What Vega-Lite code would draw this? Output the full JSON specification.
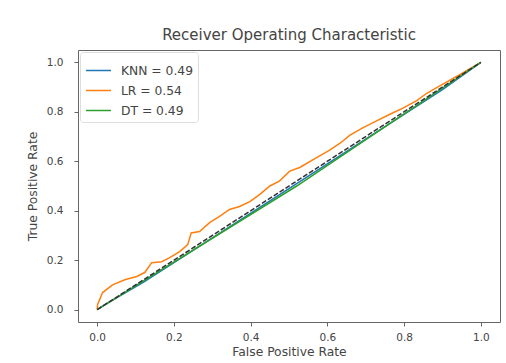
{
  "$schema": "https://vega.github.io/schema/vega-lite/v6.json",
  "width": 422,
  "height": 272,
  "autosize": {"type": "none"},
  "padding": {"left": 78, "top": 50, "right": 6, "bottom": 41},
  "background": "white",
  "config": {
    "view": {"stroke": "#666", "strokeWidth": 1},
    "font": "DejaVu Sans",
    "axis": {"labelFont": "DejaVu Sans", "titleFont": "DejaVu Sans", "labelColor": "#444", "titleColor": "#444", "tickColor": "#666", "labelFontSize": 10.5, "titleFontSize": 12.3, "titleFontWeight": "normal", "grid": false, "domain": false, "tickSize": 4}
  },
  "title": {"text": "Receiver Operating Characteristic", "fontSize": 15, "fontWeight": "normal", "color": "#444", "font": "DejaVu Sans", "offset": 7},
  "datasets": {
    "roc": [
      {"model": "KNN = 0.49", "i": 0, "fpr": 0, "tpr": 0},
      {"model": "KNN = 0.49", "i": 1, "fpr": 0.02, "tpr": 0.02},
      {"model": "KNN = 0.49", "i": 2, "fpr": 0.12, "tpr": 0.11},
      {"model": "KNN = 0.49", "i": 3, "fpr": 0.35, "tpr": 0.34},
      {"model": "KNN = 0.49", "i": 4, "fpr": 0.52, "tpr": 0.51},
      {"model": "KNN = 0.49", "i": 5, "fpr": 0.72, "tpr": 0.71},
      {"model": "KNN = 0.49", "i": 6, "fpr": 0.9, "tpr": 0.89},
      {"model": "KNN = 0.49", "i": 7, "fpr": 1, "tpr": 1},
      {"model": "LR = 0.54", "i": 0, "fpr": 0, "tpr": 0},
      {"model": "LR = 0.54", "i": 1, "fpr": 0.001, "tpr": 0.02},
      {"model": "LR = 0.54", "i": 2, "fpr": 0.014, "tpr": 0.069},
      {"model": "LR = 0.54", "i": 3, "fpr": 0.04, "tpr": 0.1},
      {"model": "LR = 0.54", "i": 4, "fpr": 0.072, "tpr": 0.121},
      {"model": "LR = 0.54", "i": 5, "fpr": 0.103, "tpr": 0.134},
      {"model": "LR = 0.54", "i": 6, "fpr": 0.124, "tpr": 0.15},
      {"model": "LR = 0.54", "i": 7, "fpr": 0.142, "tpr": 0.19},
      {"model": "LR = 0.54", "i": 8, "fpr": 0.168, "tpr": 0.194},
      {"model": "LR = 0.54", "i": 9, "fpr": 0.189, "tpr": 0.21},
      {"model": "LR = 0.54", "i": 10, "fpr": 0.215, "tpr": 0.235},
      {"model": "LR = 0.54", "i": 11, "fpr": 0.236, "tpr": 0.263},
      {"model": "LR = 0.54", "i": 12, "fpr": 0.245, "tpr": 0.31},
      {"model": "LR = 0.54", "i": 13, "fpr": 0.267, "tpr": 0.316},
      {"model": "LR = 0.54", "i": 14, "fpr": 0.293, "tpr": 0.352},
      {"model": "LR = 0.54", "i": 15, "fpr": 0.319, "tpr": 0.377},
      {"model": "LR = 0.54", "i": 16, "fpr": 0.345, "tpr": 0.405},
      {"model": "LR = 0.54", "i": 17, "fpr": 0.371, "tpr": 0.417},
      {"model": "LR = 0.54", "i": 18, "fpr": 0.398, "tpr": 0.437},
      {"model": "LR = 0.54", "i": 19, "fpr": 0.424, "tpr": 0.466},
      {"model": "LR = 0.54", "i": 20, "fpr": 0.45, "tpr": 0.5},
      {"model": "LR = 0.54", "i": 21, "fpr": 0.475, "tpr": 0.52},
      {"model": "LR = 0.54", "i": 22, "fpr": 0.502, "tpr": 0.56},
      {"model": "LR = 0.54", "i": 23, "fpr": 0.528, "tpr": 0.575},
      {"model": "LR = 0.54", "i": 24, "fpr": 0.572, "tpr": 0.615},
      {"model": "LR = 0.54", "i": 25, "fpr": 0.606, "tpr": 0.645},
      {"model": "LR = 0.54", "i": 26, "fpr": 0.635, "tpr": 0.675},
      {"model": "LR = 0.54", "i": 27, "fpr": 0.658, "tpr": 0.705},
      {"model": "LR = 0.54", "i": 28, "fpr": 0.692, "tpr": 0.735},
      {"model": "LR = 0.54", "i": 29, "fpr": 0.718, "tpr": 0.755},
      {"model": "LR = 0.54", "i": 30, "fpr": 0.763, "tpr": 0.79},
      {"model": "LR = 0.54", "i": 31, "fpr": 0.797, "tpr": 0.815},
      {"model": "LR = 0.54", "i": 32, "fpr": 0.833, "tpr": 0.845},
      {"model": "LR = 0.54", "i": 33, "fpr": 0.859, "tpr": 0.875},
      {"model": "LR = 0.54", "i": 34, "fpr": 0.893, "tpr": 0.905},
      {"model": "LR = 0.54", "i": 35, "fpr": 0.945, "tpr": 0.95},
      {"model": "LR = 0.54", "i": 36, "fpr": 1, "tpr": 1},
      {"model": "DT = 0.49", "i": 0, "fpr": 0, "tpr": 0},
      {"model": "DT = 0.49", "i": 1, "fpr": 0.52, "tpr": 0.5},
      {"model": "DT = 0.49", "i": 2, "fpr": 1, "tpr": 1}
    ],
    "diag": [
      {"fpr": 0, "tpr": 0},
      {"fpr": 1, "tpr": 1}
    ]
  },
  "layer": [
    {
      "data": {"name": "roc"},
      "mark": {"type": "line", "strokeWidth": 1.5},
      "encoding": {
        "x": {"field": "fpr", "type": "quantitative", "scale": {"domain": [-0.05, 1.05], "nice": false, "zero": false}, "axis": {"title": "False Positive Rate", "values": [0, 0.2, 0.4, 0.6, 0.8, 1.0], "format": ".1f", "labelPadding": 6, "titlePadding": 3}},
        "y": {"field": "tpr", "type": "quantitative", "scale": {"domain": [-0.05, 1.05], "nice": false, "zero": false}, "axis": {"title": "True Positive Rate", "values": [0, 0.2, 0.4, 0.6, 0.8, 1.0], "format": ".1f", "labelPadding": 11, "titlePadding": 7}},
        "color": {"field": "model", "type": "nominal", "scale": {"domain": ["KNN = 0.49", "LR = 0.54", "DT = 0.49"], "range": ["#1f77b4", "#ff7f0e", "#2ca02c"]}, "legend": {"title": null, "orient": "top-left", "offset": 2, "symbolType": "stroke", "symbolSize": 625, "symbolStrokeWidth": 1.5, "labelFontSize": 12.3, "labelColor": "#444", "labelFont": "DejaVu Sans", "strokeColor": "#ddd", "fillColor": "white", "cornerRadius": 3, "padding": 5, "rowPadding": -7, "labelOffset": 9}},
        "order": {"field": "i", "type": "quantitative"}
      }
    },
    {
      "data": {"name": "diag"},
      "mark": {"type": "line", "strokeWidth": 1.5, "color": "#333", "strokeDash": [5, 2]},
      "encoding": {
        "x": {"field": "fpr", "type": "quantitative"},
        "y": {"field": "tpr", "type": "quantitative"}
      }
    }
  ]
}
